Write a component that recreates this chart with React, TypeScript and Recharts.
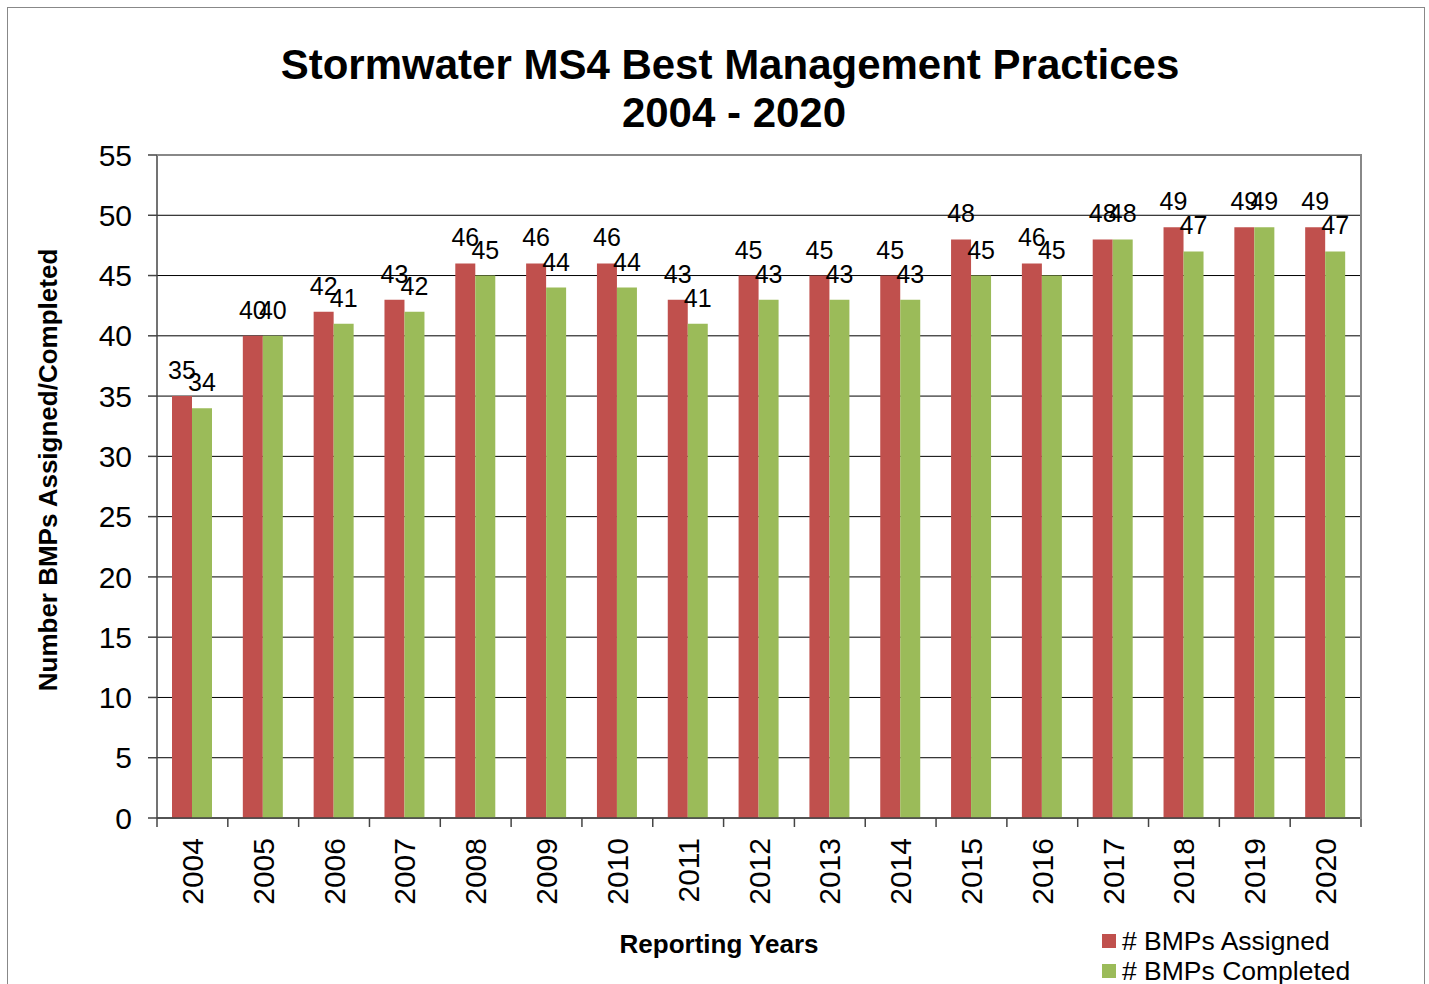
import React from "react";
import {
  Bar,
  BarChart,
  CartesianGrid,
  LabelList,
  Legend,
  XAxis,
  YAxis,
} from "recharts";

const years = [
  "2004", "2005", "2006", "2007", "2008", "2009", "2010", "2011", "2012",
  "2013", "2014", "2015", "2016", "2017", "2018", "2019", "2020",
];
const assigned = [35, 40, 42, 43, 46, 46, 46, 43, 45, 45, 45, 48, 46, 48, 49, 49, 49];
const completed = [34, 40, 41, 42, 45, 44, 44, 41, 43, 43, 43, 45, 45, 48, 47, 49, 47];
const yTicks = [0, 5, 10, 15, 20, 25, 30, 35, 40, 45, 50, 55];
const seriesNames = ["# BMPs Assigned", "# BMPs Completed"];

const RED = "#C0504D";
const GREEN = "#9BBB59";
const FONT = "'Liberation Sans', Arial, sans-serif";

const W = 1429;
const H = 984;
const PLOT_LEFT = 157;
const PLOT_RIGHT = 1361;
const PLOT_TOP = 155;
const PLOT_BOTTOM = 818;
const BAND = (PLOT_RIGHT - PLOT_LEFT) / years.length;

const chartData = years.map((year, i) => ({
  year,
  assigned: assigned[i],
  completed: completed[i],
}));

function YearTick(props: any) {
  const { x, payload, index } = props;
  const ty = PLOT_BOTTOM + 20;
  return (
    <g>
      <line
        x1={x - BAND / 2}
        x2={x - BAND / 2}
        y1={PLOT_BOTTOM}
        y2={PLOT_BOTTOM + 9}
        stroke="#444"
        strokeWidth={1.5}
      />
      {index === years.length - 1 && (
        <line
          x1={x + BAND / 2}
          x2={x + BAND / 2}
          y1={PLOT_BOTTOM}
          y2={PLOT_BOTTOM + 9}
          stroke="#444"
          strokeWidth={1.5}
        />
      )}
      <text
        x={x}
        y={ty}
        transform={`rotate(-90 ${x} ${ty})`}
        textAnchor="end"
        dy="0.35em"
        fontSize={30}
        fill="#000"
      >
        {payload.value}
      </text>
    </g>
  );
}

function LegendBox() {
  const colors = [RED, GREEN];
  return (
    <div style={{ fontFamily: FONT, fontSize: 26.5, color: "#000" }}>
      {seriesNames.map((name, i) => (
        <div
          key={name}
          style={{ display: "flex", alignItems: "center", height: 30, lineHeight: "30px" }}
        >
          <span
            style={{
              display: "inline-block",
              width: 14,
              height: 14,
              background: colors[i],
              marginRight: 6,
            }}
          />
          {name}
        </div>
      ))}
    </div>
  );
}

export default function App() {
  return (
    <div
      style={{
        position: "absolute",
        left: 0,
        top: 0,
        width: W,
        height: H,
        overflow: "hidden",
        background: "#fff",
        fontFamily: FONT,
      }}
    >
      {/* outer frame */}
      <div
        style={{
          position: "absolute",
          left: 7,
          top: 7,
          width: 1416,
          height: 1000,
          border: "1.5px solid #888",
        }}
      />
      <div
        style={{
          position: "absolute",
          left: 230,
          top: 41,
          width: 1000,
          textAlign: "center",
          fontWeight: "bold",
          fontSize: 42,
          lineHeight: "48px",
        }}
      >
        Stormwater MS4 Best Management Practices
        <br />
        <span style={{ position: "relative", left: 4 }}>2004 - 2020</span>
      </div>
      <BarChart
        width={W}
        height={H}
        data={chartData}
        margin={{ top: PLOT_TOP, right: W - PLOT_RIGHT, bottom: 66, left: 0 }}
        barSize={20}
        barGap={0}
        style={{ position: "absolute", left: 0, top: 0, fontFamily: FONT }}
      >
        <CartesianGrid vertical={false} stroke="#000" strokeWidth={1} />
        <XAxis
          dataKey="year"
          height={100}
          interval={0}
          tickLine={false}
          axisLine={{ stroke: "#444", strokeWidth: 1.5 }}
          tick={<YearTick />}
        />
        <YAxis
          width={PLOT_LEFT}
          domain={[0, 55]}
          ticks={yTicks}
          interval={0}
          tickSize={9}
          tickMargin={16}
          tickLine={{ stroke: "#444", strokeWidth: 1.5 }}
          axisLine={{ stroke: "#444", strokeWidth: 1.5 }}
          tick={{ fontSize: 30, fill: "#000" }}
        />
        <Legend
          layout="vertical"
          align="center"
          verticalAlign="middle"
          content={<LegendBox />}
          wrapperStyle={{ left: 1102, top: 926, width: 320 }}
        />
        <Bar dataKey="assigned" name={seriesNames[0]} fill={RED} isAnimationActive={false}>
          <LabelList dataKey="assigned" position="top" offset={17} fontSize={25} fill="#000" />
        </Bar>
        <Bar dataKey="completed" name={seriesNames[1]} fill={GREEN} isAnimationActive={false}>
          <LabelList dataKey="completed" position="top" offset={17} fontSize={25} fill="#000" />
        </Bar>
      </BarChart>
      {/* plot area border: top and right */}
      <div
        style={{
          position: "absolute",
          left: PLOT_LEFT,
          top: PLOT_TOP - 1,
          width: PLOT_RIGHT - PLOT_LEFT - 1,
          height: PLOT_BOTTOM - PLOT_TOP,
          borderTop: "2px solid #888",
          borderRight: "2px solid #888",
          pointerEvents: "none",
        }}
      />
      <div
        style={{
          position: "absolute",
          left: 519,
          top: 929,
          width: 400,
          textAlign: "center",
          fontWeight: "bold",
          fontSize: 26,
          lineHeight: "30px",
        }}
      >
        Reporting Years
      </div>
      <div
        style={{
          position: "absolute",
          left: 48 - 300,
          top: 470 - 15,
          width: 600,
          height: 30,
          lineHeight: "30px",
          textAlign: "center",
          fontWeight: "bold",
          fontSize: 26,
          transform: "rotate(-90deg)",
          whiteSpace: "nowrap",
        }}
      >
        Number BMPs Assigned/Completed
      </div>
    </div>
  );
}
